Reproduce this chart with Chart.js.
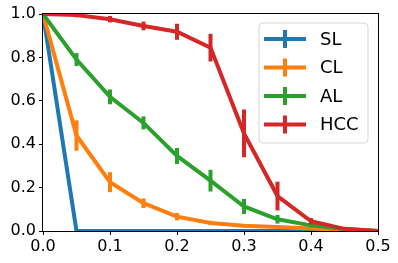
<!DOCTYPE html>
<html>
<head>
<meta charset="utf-8">
<script src="https://cdn.jsdelivr.net/npm/chart.js@4"></script>
<style>
  html, body { margin: 0; padding: 0; background: #fff; }
  #wrap { width: 398px; height: 263px; }
</style>
</head>
<body>
<div id="wrap"><canvas id="chart" width="398" height="263"></canvas></div>
<script>
// x positions (noise level)
const xs = [0, 0.05, 0.1, 0.15, 0.2, 0.25, 0.3, 0.35, 0.4, 0.45, 0.5];

// series values
const slVals = [1.0, 0.0, 0.0, 0.0, 0.0, 0.0, 0.0, 0.0, 0.0, 0.0, 0.0];
const clVals = [1.0, 0.44, 0.225, 0.128, 0.066, 0.037, 0.024, 0.018, 0.012, 0.005, 0.0];
const alVals = [1.0, 0.79, 0.618, 0.498, 0.346, 0.232, 0.113, 0.054, 0.026, 0.009, 0.0];
const hccVals = [1.0, 0.995, 0.976, 0.945, 0.918, 0.845, 0.45, 0.161, 0.045, 0.01, 0.0];

// error bar half-widths
const slErr = [0, 0.003, 0.003, 0.003, 0.003, 0.003, 0.003, 0.003, 0.003, 0.003, 0];
const clErr = [0, 0.07, 0.046, 0.022, 0.017, 0.01, 0.008, 0.006, 0.004, 0.003, 0];
const alErr = [0, 0.03, 0.034, 0.03, 0.037, 0.05, 0.035, 0.02, 0.01, 0.005, 0];
const hccErr = [0, 0.01, 0.015, 0.02, 0.037, 0.064, 0.11, 0.066, 0.015, 0.005, 0];

const names = ["SL", "CL", "AL", "HCC"];
const colors = ["#1f77b4", "#ff7f0e", "#2ca02c", "#d62728"];

const yTicks = [0, 0.2, 0.4, 0.6, 0.8, 1.0];
const xTicks = [0, 0.1, 0.2, 0.3, 0.4, 0.5];

const allVals = [slVals, clVals, alVals, hccVals];
const allErr = [slErr, clErr, alErr, hccErr];

const FONT = "'DejaVu Sans', sans-serif";

// error bars, drawn right after each dataset so stacking matches
const errorBars = {
  id: "errorBars",
  afterDatasetDraw(chart, args) {
    const ds = chart.data.datasets[args.index];
    const err = ds.errors;
    if (!err) return;
    const { ctx, chartArea } = chart;
    const ys = chart.scales.y, xsc = chart.scales.x;
    ctx.save();
    ctx.beginPath();
    ctx.rect(chartArea.left, chartArea.top, chartArea.right - chartArea.left, chartArea.bottom - chartArea.top);
    ctx.clip();
    ctx.strokeStyle = ds.borderColor;
    ctx.lineWidth = 4;
    ds.data.forEach((p, i) => {
      if (!err[i]) return;
      const px = xsc.getPixelForValue(p.x);
      ctx.beginPath();
      ctx.moveTo(px, ys.getPixelForValue(p.y - err[i]));
      ctx.lineTo(px, ys.getPixelForValue(p.y + err[i]));
      ctx.stroke();
    });
    ctx.restore();
  }
};

// axes frame + legend inside the plot (matplotlib look)
const frameLegend = {
  id: "frameLegend",
  afterDraw(chart) {
    const { ctx, chartArea: a } = chart;
    ctx.save();
    ctx.strokeStyle = "#000";
    ctx.lineWidth = 1;
    const l = Math.round(a.left) - 0.5, t = Math.round(a.top) - 0.5;
    const rr = Math.round(a.right) + 0.5, b = Math.round(a.bottom) + 0.5;
    ctx.strokeRect(l, t, rr - l, b - t);

    // legend box
    const bx = 259, by = 23, bw = 109, bh = 120, r = 4;
    ctx.beginPath();
    ctx.moveTo(bx + r, by);
    ctx.arcTo(bx + bw, by, bx + bw, by + bh, r);
    ctx.arcTo(bx + bw, by + bh, bx, by + bh, r);
    ctx.arcTo(bx, by + bh, bx, by, r);
    ctx.arcTo(bx, by, bx + bw, by, r);
    ctx.closePath();
    ctx.fillStyle = "rgba(255,255,255,0.8)";
    ctx.fill();
    ctx.strokeStyle = "#d6d6d6";
    ctx.stroke();

    ctx.font = "18px " + FONT;
    ctx.textBaseline = "middle";
    ctx.fillStyle = "#000";
    chart.data.datasets.forEach((ds, i) => {
      const cy = 39 + i * 28.5;
      ctx.strokeStyle = ds.borderColor;
      ctx.lineWidth = 4;
      ctx.beginPath();
      ctx.moveTo(264, cy);
      ctx.lineTo(306, cy);
      ctx.moveTo(285, cy - 9);
      ctx.lineTo(285, cy + 9);
      ctx.stroke();
      ctx.fillText(ds.label, 320, cy + 1);
    });
    ctx.restore();
  }
};

const datasets = names.map((n, i) => ({
  label: n,
  data: xs.map((x, j) => ({ x: x, y: allVals[i][j] })),
  errors: allErr[i],
  borderColor: colors[i],
  backgroundColor: colors[i],
  borderWidth: 4,
  pointRadius: 0,
  tension: 0,
  clip: 0,
  order: names.length - i
}));

new Chart(document.getElementById("chart"), {
  type: "line",
  data: { datasets: datasets },
  options: {
    responsive: false,
    animation: false,
    devicePixelRatio: 1,
    layout: { padding: { top: 14, right: 20, left: 0, bottom: 0 } },
    plugins: {
      legend: { display: false },
      tooltip: { enabled: false }
    },
    scales: {
      x: {
        type: "linear",
        min: 0,
        max: 0.5,
        afterFit: (s) => { s.height = 32; },
        afterBuildTicks: (s) => { s.ticks = xTicks.map(v => ({ value: v })); },
        ticks: {
          color: "#000",
          font: { family: FONT, size: 16 },
          padding: 2,
          maxRotation: 0,
          callback: (v) => Number(v).toFixed(1)
        },
        grid: { drawOnChartArea: false, drawTicks: true, tickLength: 4, color: "#000" },
        border: { display: false }
      },
      y: {
        type: "linear",
        min: 0,
        max: 1,
        afterFit: (s) => { s.width = 43; },
        afterBuildTicks: (s) => { s.ticks = yTicks.map(v => ({ value: v })); },
        ticks: {
          color: "#000",
          font: { family: FONT, size: 16 },
          padding: 3,
          callback: (v) => Number(v).toFixed(1)
        },
        grid: { drawOnChartArea: false, drawTicks: true, tickLength: 4, color: "#000" },
        border: { display: false }
      }
    }
  },
  plugins: [errorBars, frameLegend]
});
</script>
</body>
</html>
